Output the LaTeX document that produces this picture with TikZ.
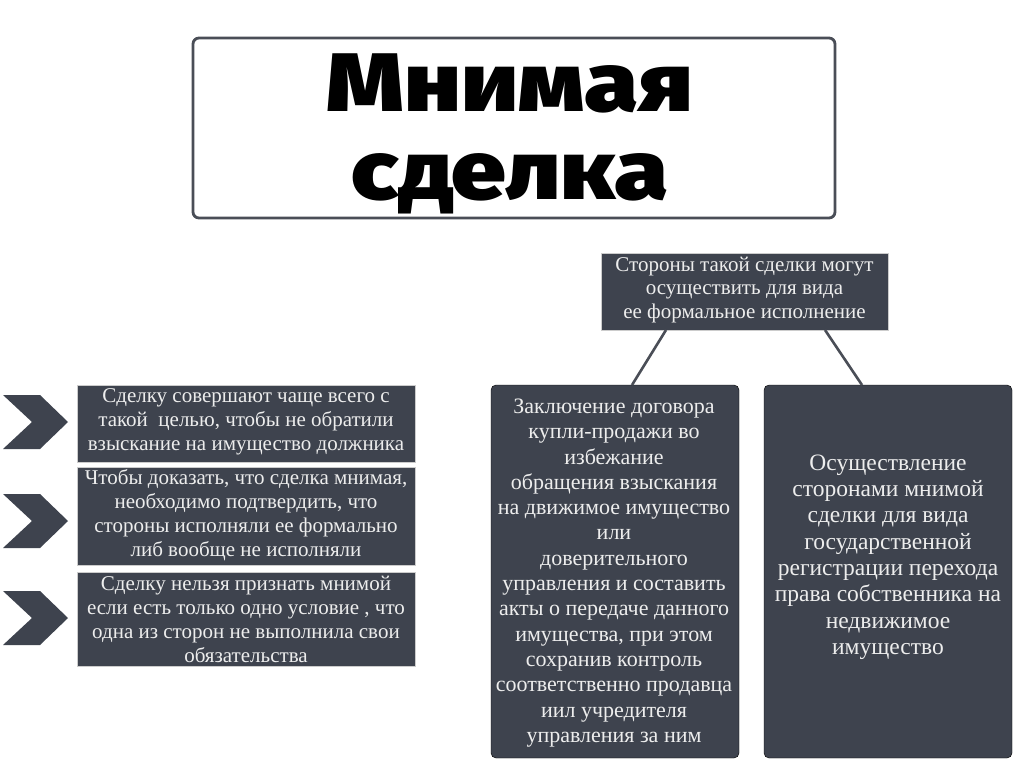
\documentclass[tikz,border=0pt]{standalone}
\usepackage{fontspec}
\setmainfont{Liberation Serif}
\newfontfamily\titlefont{Fira Sans Black}
\definecolor{slate}{HTML}{3E434E}
\definecolor{paleText}{HTML}{EDEDED}
\definecolor{frameGray}{HTML}{4A4E57}
\begin{document}
\begin{tikzpicture}[x=1pt,y=-1pt,
  darkbox/.style={fill=slate,draw=gray!40,line width=0.6pt},
  boxtext/.style={text=paleText,align=center,inner sep=0pt},
  link/.style={draw=frameGray,line width=2.6pt},
  chev/.style={fill=slate}]
\useasboundingbox[fill=white] (0,0) rectangle (1024,768);
% title
\draw[frameGray,line width=2.8pt,rounded corners=6pt,fill=white] (193,38) rectangle (835,218);
\node[font=\titlefont\fontsize{83}{88}\selectfont,align=center,inner sep=0pt] (title) at (510,134) {\scalebox{1.18}[1]{Мнимая}\\\scalebox{1.18}[1]{сделка}};
% top right node
\draw[darkbox] (601,253) rectangle (888,330);
\node[boxtext,font=\fontsize{21}{23.5}\selectfont] (toptext) at (744.5,290) {Стороны такой сделки могут\\осуществить для вида\\ее формальное исполнение};
% right boxes
\draw[fill=slate,rounded corners=5pt] (491,385) rectangle (739,758);
\draw[fill=slate,rounded corners=5pt] (764,385) rectangle (1012,758);
\coordinate (ta) at (666,330);
\coordinate (tb) at (825,330);
\coordinate (ba) at (632,385);
\coordinate (bb) at (862,385);
\draw[link] (ta) -- (ba);
\draw[link] (tb) -- (bb);
\node[boxtext,font=\fontsize{22}{25.3}\selectfont] (atext) at (614,573) {Заключение договора\\купли-продажи во\\избежание\\обращения взыскания\\на движимое имущество\\или\\доверительного\\управления и составить\\акты о передаче данного\\имущества, при этом\\сохранив контроль\\соответственно продавца\\иил учредителя\\управления за ним};
\node[boxtext,font=\fontsize{23.5}{26.3}\selectfont] (btext) at (888,557) {Осуществление\\сторонами мнимой\\сделки для вида\\государственной\\регистрации перехода\\права собственника на\\недвижимое\\имущество};
% left boxes
\draw[darkbox] (77,385) rectangle (415,462);
\draw[darkbox] (77,467) rectangle (415,565);
\draw[darkbox] (77,572) rectangle (415,666);
\node[boxtext,font=\fontsize{21}{24}\selectfont] (l1) at (246,422) {Сделку совершают чаще всего с\\такой\ \ целью, чтобы не обратили\\взыскание на имущество должника};
\node[boxtext,font=\fontsize{21}{24}\selectfont] (l2) at (246,515) {Чтобы доказать, что сделка мнимая,\\необходимо подтвердить, что\\стороны исполняли ее формально\\либ вообще не исполняли};
\node[boxtext,font=\fontsize{21}{24}\selectfont] (l3) at (246,619) {Сделку нельзя признать мнимой\\если есть только одно условие , что\\одна из сторон не выполнила свои\\обязательства};
% chevrons
\foreach \cy in {422,521,618} {
  \fill[chev] (3,\cy-27) -- (40,\cy-27) -- (68,\cy) -- (40,\cy+27) -- (3,\cy+27) -- (32,\cy) -- cycle;
}
\end{tikzpicture}
\end{document}
